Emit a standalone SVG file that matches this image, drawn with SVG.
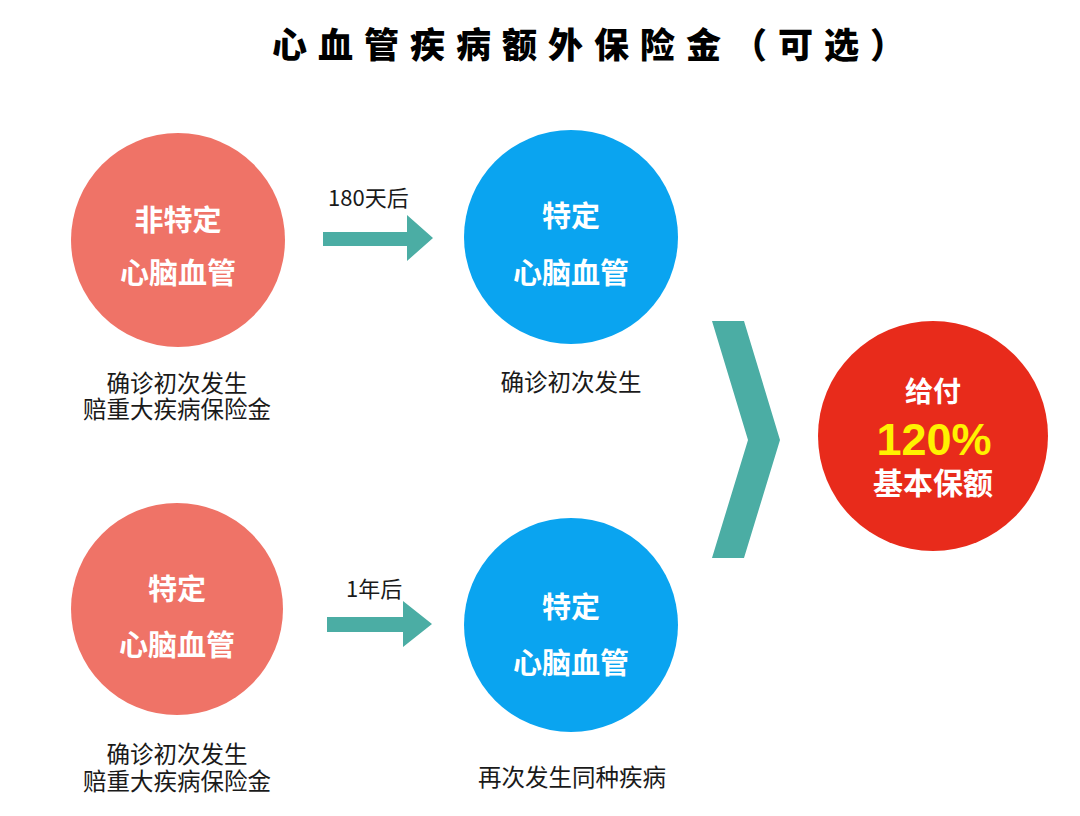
<svg xmlns="http://www.w3.org/2000/svg" width="1080" height="816" viewBox="0 0 1080 816">
<style>
.cjk{font-family:"Noto Sans CJK SC","Liberation Sans",sans-serif}
.in{fill:#ffffff;font-weight:bold;font-size:29px;text-anchor:middle}
.cap{fill:#1a1a1a;font-size:23.5px;text-anchor:middle}
.lbl{fill:#1a1a1a;font-size:22px;text-anchor:start}
.salmon{fill:#ef7367}
.blue{fill:#0aa4f0}
.teal{fill:#4bada4}
</style>
<rect width="1080" height="816" fill="#ffffff"/>
<text id="title" class="cjk" x="272" y="58" font-size="35" font-weight="900" letter-spacing="11" fill="#000000">心血管疾病额外保险金（可选）</text>

<g id="n1">
<circle class="salmon" cx="178" cy="240" r="107"/>
<text class="cjk in" x="178" y="231">非特定</text>
<text class="cjk in" x="178" y="284">心脑血管</text>
<text class="cjk cap" x="177" y="392">确诊初次发生</text>
<text class="cjk cap" x="177" y="418">赔重大疾病保险金</text>
</g>
<g id="n2">
<circle class="blue" cx="571" cy="237" r="107"/>
<text class="cjk in" x="571" y="227">特定</text>
<text class="cjk in" x="571" y="284">心脑血管</text>
<text class="cjk cap" x="571" y="391">确诊初次发生</text>
</g>
<g id="n3">
<circle class="salmon" cx="177" cy="609" r="106"/>
<text class="cjk in" x="177" y="600">特定</text>
<text class="cjk in" x="177" y="656">心脑血管</text>
<text class="cjk cap" x="177" y="763">确诊初次发生</text>
<text class="cjk cap" x="177" y="790">赔重大疾病保险金</text>
</g>
<g id="n4">
<circle class="blue" cx="571" cy="625" r="107"/>
<text class="cjk in" x="571" y="618">特定</text>
<text class="cjk in" x="571" y="674">心脑血管</text>
<text class="cjk cap" x="572" y="786">再次发生同种疾病</text>
</g>
<g id="n5">
<circle fill="#e82b1b" cx="933" cy="436" r="115"/>
<text class="cjk" x="933" y="402" fill="#ffffff" font-weight="bold" font-size="28" text-anchor="middle">给付</text>
<text x="934" y="455" fill="#fff200" font-family="Liberation Sans, Arial, sans-serif" font-weight="bold" font-size="45" text-anchor="middle">120%</text>
<text class="cjk" x="933" y="494" fill="#ffffff" font-weight="bold" font-size="30" text-anchor="middle">基本保额</text>
</g>

<g id="connectors">
<polygon class="teal" points="323,232 407,232 407,215 433,238 407,261 407,246 323,246"/>
<text class="cjk lbl" x="328" y="206">180天后</text>
<polygon class="teal" points="327,617 403,617 403,601 432,624 403,647 403,632 327,632"/>
<text class="cjk lbl" x="346" y="597">1年后</text>
<polygon class="teal" points="712,321 744,321 780,440 744,558 712,558 748,440"/>
</g>
</svg>
